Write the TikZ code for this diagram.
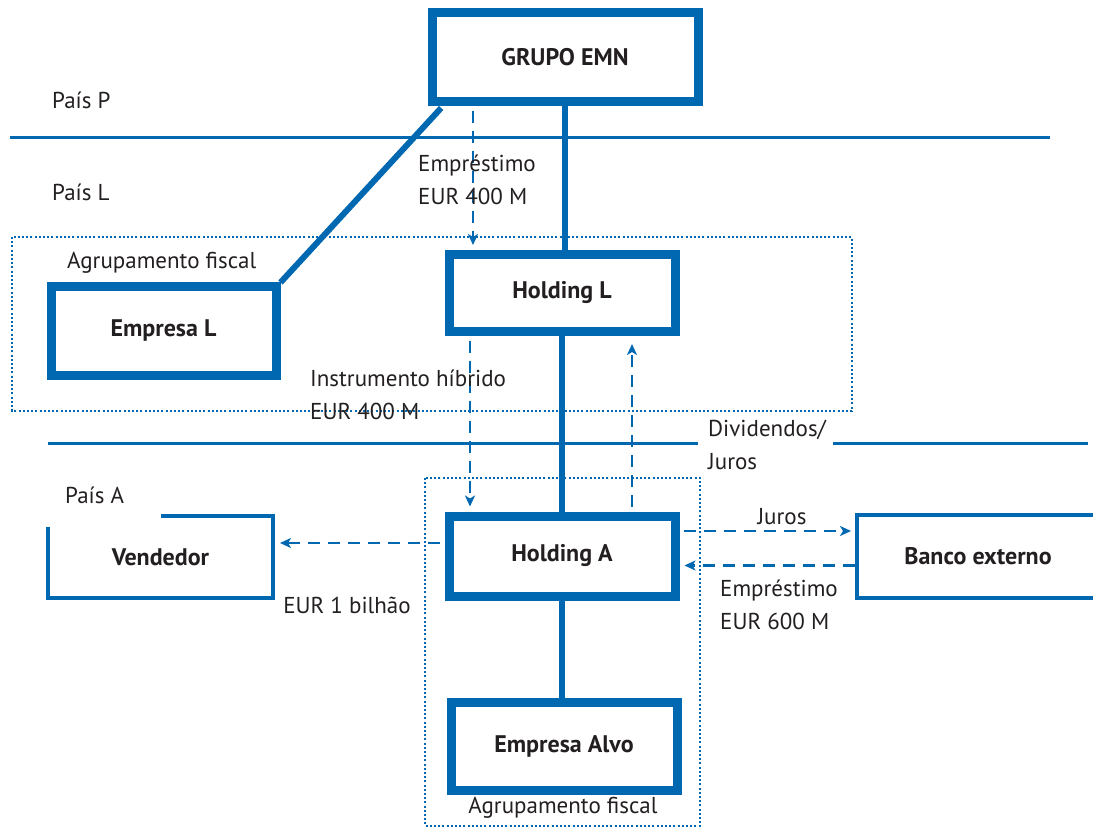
\documentclass[tikz,border=0pt]{standalone}
\usepackage{fontspec}
\setmainfont{PT Sans}
\usetikzlibrary{arrows.meta,calc}
\definecolor{emnblue}{RGB}{0,103,177}
\definecolor{txt}{RGB}{35,31,32}
\begin{document}
\begin{tikzpicture}[x=1pt,y=-1pt,
  font=\fontsize{23}{33}\selectfont, text=txt,
  bigbox/.style={draw=emnblue,line width=9pt,minimum width=226pt,minimum height=80pt,inner sep=0pt,font=\fontsize{24}{28}\selectfont\bfseries},
  openbox/.style={bigbox,draw=none,outer sep=0pt},
  thinline/.style={draw=emnblue,line width=4pt},
  solidlink/.style={draw=emnblue,line width=6pt},
  sepline/.style={draw=emnblue,line width=2.5pt},
  dotbox/.style={draw=emnblue,line width=2.5pt,dash pattern=on 2pt off 2.2pt},
  darr/.style={draw=emnblue,line width=2.5pt,dash pattern=on 12pt off 8pt,-{Stealth[length=11pt,width=10pt,inset=3pt]}},
  lbl/.style={inner sep=0pt,align=left}
]
\useasboundingbox (0,0) rectangle (1093,829);
% grouping boxes
\draw[dotbox] (12,237) rectangle (852,411);
\draw[dotbox] (425,478) rectangle (700,826);
% country separators
\draw[sepline] (10,137.5) -- (1050,137.5);
\draw[sepline] (48,443.5) -- (698,443.5);
\draw[sepline] (833,443.5) -- (1088,443.5);
% nodes
\node[bigbox,minimum width=266pt,minimum height=89pt] (grupo) at (565,57.5) {GRUPO EMN};
\node[bigbox,minimum height=77pt] (hl) at (562,293) {Holding L};
\node[bigbox,minimum width=225pt,minimum height=88pt] (el) at (163.5,331) {Empresa L};
\node[bigbox] (ha) at (562,556) {Holding A};
\node[bigbox,minimum height=88pt] (alvo) at (564,746) {Empresa Alvo};
\node[openbox,minimum width=225pt,minimum height=82pt] (vend) at (160.5,557) {Vendedor};
\node[openbox,minimum width=242pt,minimum height=83pt] (banco) at (978,556.5) {Banco externo};
\draw[thinline] (vend.north) -- (vend.north east) -- (vend.south east) -- (vend.south west) -- ([yshift=-11pt]vend.north west);
\draw[thinline] (banco.north east) -- (banco.north west) -- (banco.south west) -- (banco.south east);
% solid links
\draw[solidlink] (grupo.south) -- (grupo.south |- hl.north);
\draw[solidlink] (hl.south) -- (ha.north);
\draw[solidlink] (ha.south) -- (ha.south |- alvo.north);
\draw[solidlink,shorten <=2pt] ([xshift=15pt]grupo.south west) -- (el.north east);
% dashed flows
\draw[darr,shorten <=4.5pt,shorten >=5pt] ([xshift=-92pt]grupo.south) -- ([xshift=-92pt]grupo.south |- hl.north);
\draw[darr,shorten <=4.5pt,shorten >=5pt] ([xshift=-92pt]hl.south) -- ([xshift=-92pt]hl.south |- ha.north);
\draw[darr,shorten <=5pt,shorten >=8pt] ([xshift=70pt]ha.north) -- ([xshift=70pt]ha.north |- hl.south);
\draw[darr,shorten <=4.5pt,shorten >=7pt] ([yshift=13pt]ha.west) -- ([yshift=13pt]ha.west -| vend.east);
\draw[darr,shorten <=4.5pt,shorten >=6pt] ([yshift=25pt]ha.east) -- ([yshift=25pt]ha.east -| banco.west);
\draw[darr,shorten <=2pt,shorten >=5pt] ([yshift=-9pt]banco.west) -- ([yshift=-9pt]banco.west -| ha.east);
% labels
\node[lbl,anchor=west] (pp) at (52,100) {País P};
\node[lbl,anchor=west] (pl) at (52,192) {País L};
\node[lbl,anchor=west] (pa) at (65,495) {País A};
\node[lbl,anchor=west] (emp4) at (418,179.5) {Empréstimo\\EUR 400 M};
\node[lbl,anchor=west] (ag1) at (67,263) {Agrupamento fiscal};
\node[lbl,anchor=west] (hib) at (310,394.5) {Instrumento híbrido\\EUR 400 M};
\node[lbl,anchor=west] (div) at (708,445) {Dividendos/\\Juros};
\node[lbl] (jur) at (782,517) {Juros};
\node[lbl] (b1) at (347,605) {EUR 1 bilhão};
\node[lbl,anchor=west] (emp6) at (720,605) {Empréstimo\\EUR 600 M};
\node[lbl] (ag2) at (563,808) {Agrupamento fiscal};
\end{tikzpicture}
\end{document}
